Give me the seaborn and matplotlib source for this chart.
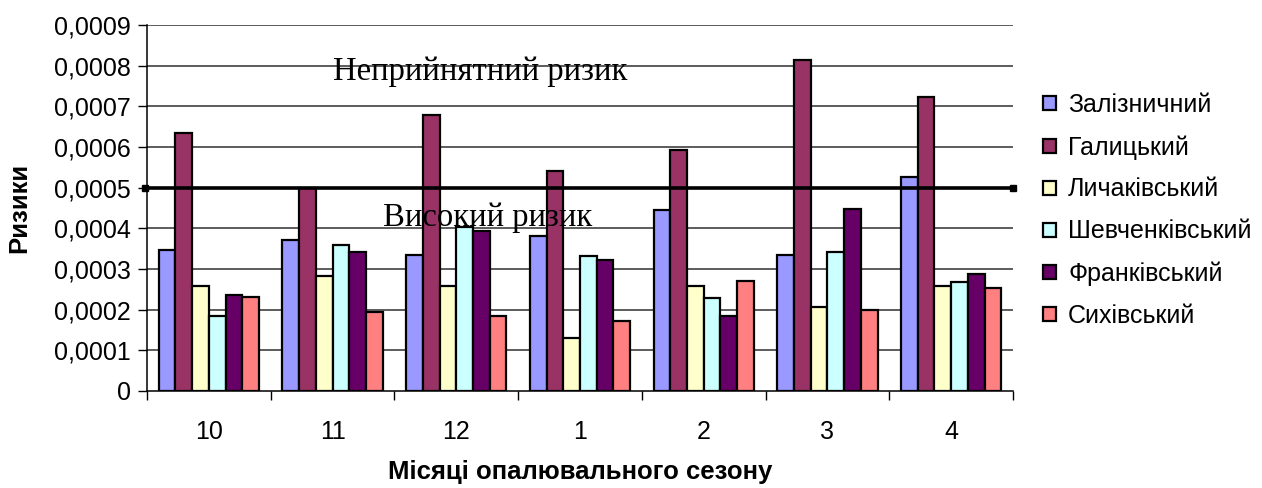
import matplotlib
matplotlib.use("Agg")
import matplotlib.pyplot as plt
from matplotlib.patches import Patch
from matplotlib.ticker import FuncFormatter, FixedLocator
import seaborn as sns
import pandas as pd
import numpy as np

months = ["10", "11", "12", "1", "2", "3", "4"]
districts = ["Залізничний", "Галицький", "Личаківський", "Шевченківський", "Франківський", "Сихівський"]
colors = ["#9999FF", "#993366", "#FFFFCC", "#CCFFFF", "#660066", "#FF8080"]

zaliznychnyi = [0.000347, 0.000371, 0.000335, 0.000380, 0.000446, 0.000335, 0.000527]
halytskyi = [0.000635, 0.000500, 0.000679, 0.000540, 0.000592, 0.000815, 0.000722]
lychakivskyi = [0.000259, 0.000283, 0.000259, 0.000131, 0.000259, 0.000207, 0.000259]
shevchenkivskyi = [0.000184, 0.000360, 0.000404, 0.000331, 0.000229, 0.000341, 0.000267]
frankivskyi = [0.000237, 0.000341, 0.000394, 0.000322, 0.000184, 0.000447, 0.000288]
sykhivskyi = [0.000230, 0.000195, 0.000184, 0.000173, 0.000271, 0.000200, 0.000253]

threshold = 0.0005
y_ticks = [0.0, 0.0001, 0.0002, 0.0003, 0.0004, 0.0005, 0.0006, 0.0007, 0.0008, 0.0009]

series = [zaliznychnyi, halytskyi, lychakivskyi, shevchenkivskyi, frankivskyi, sykhivskyi]
rows = []
for d, vals in zip(districts, series):
    for m, v in zip(months, vals):
        rows.append({"month": m, "district": d, "value": v})
df = pd.DataFrame(rows)

sns.set_style("white")
plt.rcParams["font.family"] = ["Liberation Sans", "DejaVu Sans"]
plt.rcParams["text.color"] = "black"
plt.rcParams["axes.labelcolor"] = "black"
plt.rcParams["xtick.color"] = "black"
plt.rcParams["ytick.color"] = "black"

fig = plt.figure(figsize=(12.62, 4.88), dpi=100)
ax = fig.add_axes([147 / 1262, 1 - 391 / 488, 866 / 1262, 366 / 488])

# gridlines
for t in y_ticks[1:]:
    ax.axhline(t, color="#303030", lw=1.1, zorder=0)

sns.barplot(data=df, x="month", y="value", hue="district", order=months,
            hue_order=districts, palette=colors, saturation=1, edgecolor="black",
            linewidth=1.6, width=0.81, gap=0, legend=False, ax=ax, zorder=2,
            errorbar=None)

ax.set_xlim(-0.5, len(months) - 0.5)
ax.set_ylim(0, 0.0009)

# threshold line
ax.plot([-0.52, len(months) - 0.5], [threshold, threshold], color="black", lw=2.6,
        zorder=3, clip_on=False)
ax.plot([-0.52, len(months) - 0.5], [threshold, threshold], ls="none", marker="s",
        ms=4, color="black", zorder=4, clip_on=False)

ax.text(0.3845, 0.872, "Неприйнятний ризик", transform=ax.transAxes,
        fontfamily="Liberation Serif", fontsize=23.5, ha="center", va="center", zorder=5)
ax.text(0.393, 0.473, "Високий ризик", transform=ax.transAxes,
        fontfamily="Liberation Serif", fontsize=23.5, ha="center", va="center", zorder=5)

# axes styling
for s in ["top", "right"]:
    ax.spines[s].set_visible(False)
for s in ["left", "bottom"]:
    ax.spines[s].set_visible(True)
    ax.spines[s].set_color("black")
    ax.spines[s].set_linewidth(1.1)

ax.set_yticks(y_ticks)
ax.yaxis.set_major_formatter(FuncFormatter(lambda v, p: "0" if abs(v) < 1e-12 else f"{v:.4f}".replace(".", ",")))
ax.tick_params(axis="y", which="major", left=True, length=6.5, width=1, color="black",
               labelsize=18, pad=5)

ax.set_xticks(range(len(months)))
ax.set_xticklabels(months)
ax.tick_params(axis="x", which="major", bottom=True, length=0, labelsize=18, pad=21)
ax.xaxis.set_minor_locator(FixedLocator(np.arange(-0.5, len(months), 1.0)))
ax.tick_params(axis="x", which="minor", bottom=True, length=6.5, width=1, color="black")

ax.set_xlabel("Місяці опалювального сезону", fontsize=18.5, fontweight="bold")
ax.xaxis.set_label_coords(0.5, -0.221)
ax.xaxis.label.set_va("center")
ax.set_ylabel("Ризики", fontsize=18.5, fontweight="bold")
ax.yaxis.set_label_coords(-0.148, 0.5)
ax.yaxis.label.set_va("center")

handles = [Patch(facecolor=c, edgecolor="black", linewidth=1.6, label=d)
           for c, d in zip(colors, districts)]
fig.legend(handles=handles, loc="upper left", bbox_to_anchor=(1043 / 1262, (488 - 93) / 488),
           frameon=False, fontsize=18, handlelength=0.5, handleheight=0.5,
           handletextpad=0.5, labelspacing=0.72, borderaxespad=0, borderpad=0)

fig.savefig("out.png", dpi=100)
